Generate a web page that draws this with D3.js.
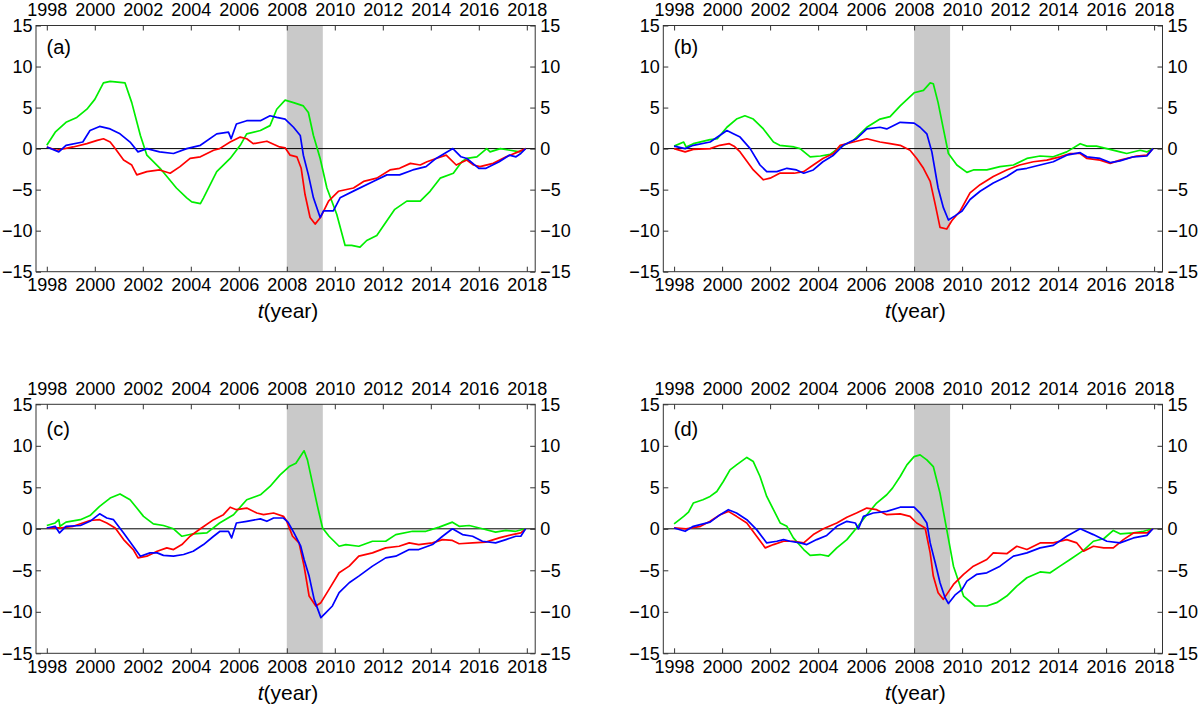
<!DOCTYPE html>
<html>
<head>
<meta charset="utf-8">
<script src="https://cdn.jsdelivr.net/npm/d3@7"></script>
<style>
  html, body { margin: 0; padding: 0; background: #fff; }
  svg { display: block; font-family: "Liberation Sans", Arial, Helvetica, sans-serif; }
</style>
</head>
<body>
<svg id="chart" width="1200" height="707"></svg>
<script>
// ---------- data ----------
const yearTicks = [1998, 2000, 2002, 2004, 2006, 2008, 2010, 2012, 2014, 2016, 2018];
const valueTicks = [-15, -10, -5, 0, 5, 10, 15];
const panelLabels = ["(a)", "(b)", "(c)", "(d)"];
const shadeSpan = [2008.0, 2009.5];
const xLabel = "(year)";

const aGreen = [[1998,0.4],[1998.35,2.0],[1998.8,3.2],[1999.25,3.8],[1999.67,4.8],[2000,6],[2000.36,8],[2000.64,8.2],[2001.26,8.0],[2001.54,5.6],[2001.9,1.6],[2002.17,-0.8],[2002.72,-2.4],[2003.4,-4.8],[2003.83,-6],[2004.04,-6.5],[2004.4,-6.7],[2004.53,-6],[2005.08,-2.8],[2005.64,-1.2],[2006.06,0.4],[2006.33,1.8],[2006.9,2.2],[2007.3,2.8],[2007.58,4.8],[2007.93,5.9],[2008.28,5.6],[2008.69,5.2],[2008.9,4.4],[2009.11,1.6],[2009.39,-1.2],[2009.67,-4.8],[2010.08,-8],[2010.43,-11.8],[2010.7,-11.8],[2011.05,-12],[2011.33,-11.2],[2011.75,-10.6],[2012.17,-8.8],[2012.5,-7.4],[2013.0,-6.4],[2013.56,-6.4],[2013.97,-5.2],[2014.39,-3.6],[2014.94,-3.0],[2015.29,-1.6],[2015.5,-1.2],[2015.92,-1.0],[2016.33,0],[2016.47,-0.4],[2016.9,0],[2017.3,-0.2],[2017.72,-0.4],[2017.95,0]];
const aBlue = [[1998,0.2],[1998.5,-0.4],[1998.8,0.4],[1999.5,0.8],[1999.8,2.2],[2000.2,2.7],[2000.64,2.4],[2001.05,1.8],[2001.47,0.8],[2001.8,-0.4],[2002.17,0],[2002.7,-0.4],[2003.28,-0.6],[2003.83,0],[2004.4,0.4],[2005.08,1.8],[2005.57,2.0],[2005.68,1.2],[2005.9,3.0],[2006.33,3.4],[2006.9,3.4],[2007.3,4.0],[2007.58,3.8],[2007.93,3.6],[2008.28,2.6],[2008.56,1.6],[2008.69,-0.8],[2008.9,-3.2],[2009.11,-6],[2009.39,-8.4],[2009.53,-7.6],[2009.94,-7.6],[2010.22,-6],[2010.9,-5],[2011.6,-4],[2012.17,-3.2],[2012.7,-3.2],[2013.25,-2.6],[2013.8,-2.2],[2014.22,-1.2],[2014.92,0],[2015.26,-1],[2015.5,-1.2],[2016.0,-2.4],[2016.3,-2.4],[2016.85,-1.6],[2017.27,-0.8],[2017.55,-1],[2017.75,-0.6],[2017.95,0]];
const aRed = [[1998,0.2],[1998.4,-0.2],[1999.1,0.2],[1999.67,0.6],[2000.1,1.0],[2000.36,1.2],[2000.64,0.8],[2000.85,0],[2001.2,-1.4],[2001.54,-2.0],[2001.75,-3.2],[2002.17,-2.8],[2002.7,-2.6],[2003.14,-3.0],[2003.55,-2.2],[2003.97,-1.2],[2004.4,-1.0],[2004.95,-0.2],[2005.2,0],[2005.64,0.8],[2006.06,1.4],[2006.33,1.2],[2006.6,0.6],[2007.17,0.9],[2007.7,0.2],[2007.93,0.1],[2008.14,-0.8],[2008.42,-1.0],[2008.6,-2.4],[2008.76,-5.6],[2008.97,-8.4],[2009.18,-9.2],[2009.4,-8.4],[2009.74,-6.4],[2010.15,-5.2],[2010.78,-4.8],[2011.2,-4],[2011.75,-3.6],[2012.3,-2.6],[2012.7,-2.4],[2013.15,-1.8],[2013.56,-2.0],[2013.84,-1.6],[2014.22,-1.2],[2014.64,-0.8],[2015.06,-2.0],[2015.5,-1.4],[2015.78,-2],[2016.05,-2.2],[2016.6,-1.8],[2017.14,-1.0],[2017.64,-0.4],[2017.95,0]];

const bGreen = [[1998,0.3],[1998.4,0.8],[1998.5,0.2],[1998.8,0.6],[1999.5,1.1],[1999.8,1.2],[2000.2,2.6],[2000.6,3.6],[2000.95,4.0],[2001.3,3.6],[2001.72,2.4],[2002.14,0.8],[2002.4,0.4],[2003,0.2],[2003.25,0],[2003.67,-1.0],[2004.1,-0.9],[2004.5,-0.7],[2004.92,0.2],[2005.47,1.0],[2006.03,2.6],[2006.58,3.6],[2007,3.9],[2007.42,5.2],[2008,6.8],[2008.39,7.1],[2008.67,8.0],[2008.8,7.9],[2009,5.6],[2009.22,2.4],[2009.43,-0.6],[2009.78,-2.0],[2010.2,-2.9],[2010.47,-2.6],[2011.03,-2.6],[2011.58,-2.2],[2012.14,-2.0],[2012.7,-1.2],[2013.25,-0.9],[2013.8,-1.0],[2014.36,-0.4],[2014.92,0.6],[2015.2,0.3],[2015.6,0.3],[2016.03,0],[2016.58,-0.4],[2016.86,-0.6],[2017.42,-0.2],[2017.7,-0.4],[2017.95,0]];
const bBlue = [[1998,0.3],[1998.46,0],[1998.8,0.4],[1999.5,0.8],[1999.9,1.6],[2000.2,2.2],[2000.47,1.8],[2000.75,1.4],[2001.17,0],[2001.58,-2.0],[2001.86,-2.8],[2002.28,-2.8],[2002.7,-2.4],[2003.1,-2.6],[2003.4,-3.0],[2003.8,-2.6],[2004.2,-1.6],[2004.64,-0.8],[2005.05,0.4],[2005.6,1.2],[2006.03,2.4],[2006.58,2.6],[2006.86,2.4],[2007.42,3.2],[2008,3.1],[2008.25,2.6],[2008.53,1.8],[2008.74,-0.4],[2009.0,-4.8],[2009.22,-7.2],[2009.43,-8.7],[2009.7,-8.2],[2010,-7.6],[2010.33,-6.2],[2010.75,-5.2],[2011.3,-4.2],[2011.86,-3.4],[2012.28,-2.6],[2012.7,-2.4],[2013.25,-2.0],[2013.8,-1.6],[2014.36,-0.8],[2014.92,-0.5],[2015.2,-1.0],[2015.75,-1.2],[2016.17,-1.7],[2016.58,-1.5],[2017.14,-1.0],[2017.7,-0.9],[2017.95,0]];
const bRed = [[1998,0],[1998.46,-0.4],[1998.8,-0.1],[1999.5,0],[1999.9,0.4],[2000.3,0.6],[2000.5,0.3],[2000.75,-0.4],[2001.3,-2.6],[2001.72,-3.8],[2002.0,-3.6],[2002.4,-3.0],[2003,-3.0],[2003.4,-2.8],[2003.8,-2.0],[2004.2,-1.2],[2004.64,-0.6],[2004.92,0.4],[2005.47,0.8],[2006.03,1.2],[2006.58,0.8],[2007,0.6],[2007.42,0.4],[2007.83,-0.2],[2008.11,-1.2],[2008.39,-2.4],[2008.67,-4],[2008.88,-6.8],[2009.08,-9.6],[2009.36,-9.8],[2009.57,-8.8],[2009.92,-7.6],[2010.33,-5.4],[2010.75,-4.4],[2011.3,-3.4],[2011.86,-2.6],[2012.4,-2.0],[2012.97,-1.6],[2013.53,-1.4],[2014.08,-1.0],[2014.5,-0.6],[2014.92,-0.6],[2015.2,-1.2],[2015.75,-1.4],[2016.17,-1.8],[2016.58,-1.4],[2017.28,-0.9],[2017.7,-0.8],[2017.95,0]];

const cGreen = [[1998,0.4],[1998.35,0.7],[1998.5,1.1],[1998.55,0.3],[1998.8,0.8],[1999.4,1.1],[1999.8,1.6],[2000.2,2.7],[2000.64,3.7],[2001.05,4.2],[2001.47,3.5],[2001.75,2.5],[2002.03,1.5],[2002.44,0.6],[2002.86,0.4],[2003.28,0],[2003.63,-0.9],[2004.1,-0.6],[2004.67,-0.5],[2005.2,0.7],[2005.78,1.7],[2006.33,3.5],[2006.9,4.1],[2007.3,5.1],[2007.72,6.5],[2008.1,7.5],[2008.38,7.9],[2008.72,9.4],[2008.86,8.3],[2009.07,5.5],[2009.28,2.7],[2009.49,0.1],[2009.76,-0.9],[2010.18,-2.1],[2010.46,-1.9],[2011,-2.1],[2011.57,-1.5],[2012.12,-1.5],[2012.54,-0.7],[2013.24,-0.3],[2013.8,-0.3],[2014.35,0.2],[2014.9,0.8],[2015.18,0.3],[2015.6,0.4],[2016.15,0],[2016.7,-0.4],[2017.13,-0.2],[2017.54,-0.3],[2017.95,0]];
const cBlue = [[1998,0.1],[1998.35,0.3],[1998.53,-0.5],[1998.8,0.3],[1999.4,0.4],[1999.8,0.9],[2000.2,1.8],[2000.5,1.3],[2000.78,1.1],[2001.2,-0.5],[2001.6,-2.1],[2001.9,-3.3],[2002.3,-2.9],[2002.6,-2.9],[2002.86,-3.2],[2003.28,-3.3],[2003.7,-3.1],[2004.1,-2.7],[2004.53,-1.9],[2004.95,-0.9],[2005.22,-0.3],[2005.57,-0.3],[2005.7,-1.1],[2005.9,0.7],[2006.33,0.9],[2006.9,1.2],[2007.17,0.9],[2007.45,1.3],[2007.86,1.3],[2008.05,0.8],[2008.3,-0.5],[2008.58,-2.1],[2008.72,-3.7],[2008.93,-5.7],[2009.14,-8.5],[2009.42,-10.7],[2009.63,-10.1],[2009.9,-9.3],[2010.18,-7.7],[2010.6,-6.5],[2011,-5.7],[2011.57,-4.5],[2012.12,-3.5],[2012.54,-3.3],[2013.1,-2.5],[2013.5,-2.5],[2014.07,-1.9],[2014.49,-0.9],[2014.9,0],[2015.32,-0.7],[2015.74,-0.9],[2016.15,-1.5],[2016.7,-1.7],[2017.13,-1.3],[2017.54,-0.9],[2017.75,-0.9],[2017.95,0]];
const cRed = [[1998,0.1],[1998.55,0.1],[1999.1,0.3],[1999.8,1.0],[2000.2,1.1],[2000.5,0.7],[2000.85,0.1],[2001.2,-1.3],[2001.6,-2.5],[2001.8,-3.5],[2002.17,-3.3],[2002.6,-2.7],[2003,-2.3],[2003.28,-2.5],[2003.63,-1.9],[2003.97,-0.9],[2004.4,0],[2004.95,1.1],[2005.36,1.7],[2005.64,2.6],[2005.9,2.3],[2006.33,2.5],[2006.75,1.9],[2007.03,1.7],[2007.45,1.9],[2007.86,1.5],[2008.0,0.9],[2008.24,-0.9],[2008.51,-1.7],[2008.72,-4.5],[2008.93,-8.1],[2009.21,-9.3],[2009.42,-8.9],[2009.76,-7.3],[2010.18,-5.3],[2010.6,-4.5],[2011,-3.3],[2011.57,-2.9],[2012.12,-2.3],[2012.68,-2.1],[2013.1,-1.7],[2013.5,-1.9],[2014.07,-1.7],[2014.49,-1.3],[2014.9,-1.4],[2015.18,-1.8],[2015.74,-1.7],[2016.29,-1.6],[2016.85,-1.1],[2017.4,-0.7],[2017.75,-0.5],[2017.95,0]];

const dGreen = [[1998,0.6],[1998.4,1.5],[1998.6,2.0],[1998.8,3.1],[1999.2,3.5],[1999.5,3.9],[1999.78,4.5],[2000.05,5.7],[2000.33,7.1],[2000.6,7.7],[2001.03,8.6],[2001.3,8.1],[2001.58,6.3],[2001.86,3.9],[2002.14,2.3],[2002.42,0.7],[2002.7,0.3],[2002.97,-1.1],[2003.4,-2.5],[2003.67,-3.2],[2004.08,-3.1],[2004.43,-3.3],[2004.78,-2.3],[2005.2,-1.3],[2005.6,0.1],[2006.03,1.7],[2006.44,3.1],[2006.86,4.1],[2007.1,4.9],[2007.42,6.3],[2007.7,7.7],[2008,8.7],[2008.25,8.9],[2008.53,8.3],[2008.8,7.5],[2009.08,4.3],[2009.36,-0.1],[2009.64,-4.5],[2010.06,-8.1],[2010.54,-9.3],[2011.03,-9.3],[2011.44,-8.9],[2011.86,-8.1],[2012.28,-6.9],[2012.7,-5.9],[2013.25,-5.2],[2013.67,-5.3],[2014.08,-4.5],[2014.5,-3.7],[2015.06,-2.6],[2015.47,-1.5],[2015.9,-1.2],[2016.3,-0.2],[2016.58,-0.6],[2017.14,-0.5],[2017.56,-0.3],[2017.95,0]];
const dBlue = [[1998,0.1],[1998.46,-0.3],[1998.8,0.3],[1999.5,0.8],[1999.92,1.7],[2000.26,2.3],[2000.6,1.9],[2001.03,1.1],[2001.44,-0.1],[2001.86,-1.7],[2002.28,-1.5],[2002.56,-1.3],[2002.83,-1.5],[2003.25,-1.7],[2003.53,-1.9],[2003.94,-1.3],[2004.36,-0.8],[2004.78,0.3],[2005.2,0.9],[2005.55,0.7],[2005.68,0],[2005.89,1.5],[2006.3,1.9],[2006.86,2.1],[2007.42,2.6],[2008,2.6],[2008.25,1.9],[2008.53,0.7],[2008.67,-1.7],[2008.88,-4.1],[2009.08,-6.5],[2009.29,-8.3],[2009.43,-9.0],[2009.7,-8.0],[2010,-7.3],[2010.2,-6.3],[2010.6,-5.5],[2011.03,-5.3],[2011.58,-4.5],[2012.14,-3.3],[2012.7,-2.9],[2013.25,-2.3],[2013.8,-2.0],[2014.36,-0.9],[2014.92,0],[2015.47,-0.7],[2016.03,-1.5],[2016.58,-1.7],[2017.14,-1.1],[2017.7,-0.8],[2017.95,0]];
const dRed = [[1998,0.1],[1998.5,0],[1999.1,0.3],[1999.5,0.9],[1999.92,1.7],[2000.26,2.1],[2000.6,1.5],[2001.03,0.7],[2001.44,-0.9],[2001.8,-2.3],[2002.14,-1.9],[2002.56,-1.5],[2002.97,-1.5],[2003.4,-1.7],[2003.8,-0.7],[2004.22,0],[2004.78,0.7],[2005.2,1.4],[2005.6,1.9],[2006.03,2.5],[2006.44,2.3],[2006.86,1.7],[2007.42,1.8],[2007.83,1.5],[2008.11,0.7],[2008.46,0.1],[2008.67,-2.9],[2008.8,-5.7],[2009.0,-7.7],[2009.22,-8.5],[2009.36,-7.9],[2009.64,-6.7],[2010.06,-5.5],[2010.47,-4.5],[2011.03,-3.7],[2011.3,-2.9],[2011.86,-3.0],[2012.28,-2.1],[2012.7,-2.5],[2013.25,-1.7],[2013.8,-1.7],[2014.36,-1.3],[2014.78,-1.7],[2015.06,-2.7],[2015.47,-2.1],[2015.9,-2.3],[2016.3,-2.3],[2016.72,-1.3],[2017.14,-0.5],[2017.7,-0.5],[2017.95,0]];

const panelSeries = [
  { green: aGreen, red: aRed, blue: aBlue },
  { green: bGreen, red: bRed, blue: bBlue },
  { green: cGreen, red: cRed, blue: cBlue },
  { green: dGreen, red: dRed, blue: dBlue }
];

// ---------- layout ----------
const svg = d3.select("#chart");
const plotW = 499.2;
// [left, top, height]; bottom frame of the upper row stays at 271.7
const frames = [[36, 25.5, 246.2], [663.3, 25.5, 246.2], [36, 404.3, 249], [663.3, 404.3, 249]];
const frameColor = "#333";
const colors = { green: "#00ee00", red: "#ff0000", blue: "#0000ff" };

const x = d3.scaleLinear().domain([1997.55, 2018.35]).range([0, plotW]);

frames.forEach((f, i) => {
  const plotH = f[2];
  const y = d3.scaleLinear().domain([-15, 15]).range([plotH, 0]);
  const line = d3.line().x(d => x(d[0])).y(d => y(d[1]));
  const g = svg.append("g").attr("transform", `translate(${f[0]},${f[1]})`);

  const clipId = "clip" + i;
  g.append("clipPath").attr("id", clipId)
    .append("rect").attr("width", plotW).attr("height", plotH);

  // recession shade
  g.append("rect")
    .attr("x", x(shadeSpan[0])).attr("y", 0)
    .attr("width", x(shadeSpan[1]) - x(shadeSpan[0])).attr("height", plotH)
    .attr("fill", "#c9c9c9");

  // zero line
  g.append("line")
    .attr("x1", 0).attr("x2", plotW).attr("y1", y(0)).attr("y2", y(0))
    .attr("stroke", "#000").attr("stroke-width", 1);

  // series
  const lines = g.append("g").attr("clip-path", `url(#${clipId})`);
  ["green", "red", "blue"].forEach(k => {
    lines.append("path")
      .datum(panelSeries[i][k])
      .attr("d", line)
      .attr("fill", "none")
      .attr("stroke", colors[k])
      .attr("stroke-width", 1.7)
      .attr("stroke-linejoin", "round");
  });

  // axes
  const fmtYear = d3.format("d");
  const styleAxis = sel => {
    sel.select(".domain").remove();
    sel.selectAll(".tick line").attr("stroke", frameColor).attr("stroke-width", 1);
    sel.selectAll(".tick text").attr("fill", "#000").style("font-size", "18px")
      .style("font-family", '"Liberation Sans", Arial, sans-serif');
  };
  g.append("g").attr("transform", `translate(0,${plotH})`)
    .call(d3.axisBottom(x).tickValues(yearTicks).tickFormat(fmtYear).tickSize(-5).tickPadding(6.5))
    .call(styleAxis);
  g.append("g")
    .call(d3.axisTop(x).tickValues(yearTicks).tickFormat(fmtYear).tickSize(-5).tickPadding(9.2))
    .call(styleAxis);
  g.append("g")
    .call(d3.axisLeft(y).tickValues(valueTicks).tickSize(-5).tickPadding(3.5))
    .call(styleAxis);
  g.append("g").attr("transform", `translate(${plotW},0)`)
    .call(d3.axisRight(y).tickValues(valueTicks).tickSize(-5).tickPadding(5))
    .call(styleAxis);

  // frame
  g.append("rect")
    .attr("x", 0).attr("y", 0).attr("width", plotW).attr("height", plotH)
    .attr("fill", "none").attr("stroke", frameColor).attr("stroke-width", 1);

  // panel label
  g.append("text")
    .attr("x", 10.5).attr("y", plotH - 217.5)
    .style("font-size", "20px")
    .attr("fill", "#000")
    .text(panelLabels[i]);

  // x-axis title
  const t = g.append("text")
    .attr("x", 252).attr("y", plotH + 46.5)
    .attr("text-anchor", "middle")
    .style("font-size", "21px")
    .attr("fill", "#000");
  t.append("tspan").style("font-style", "italic").text("t");
  t.append("tspan").text(xLabel);
});
</script>
</body>
</html>
